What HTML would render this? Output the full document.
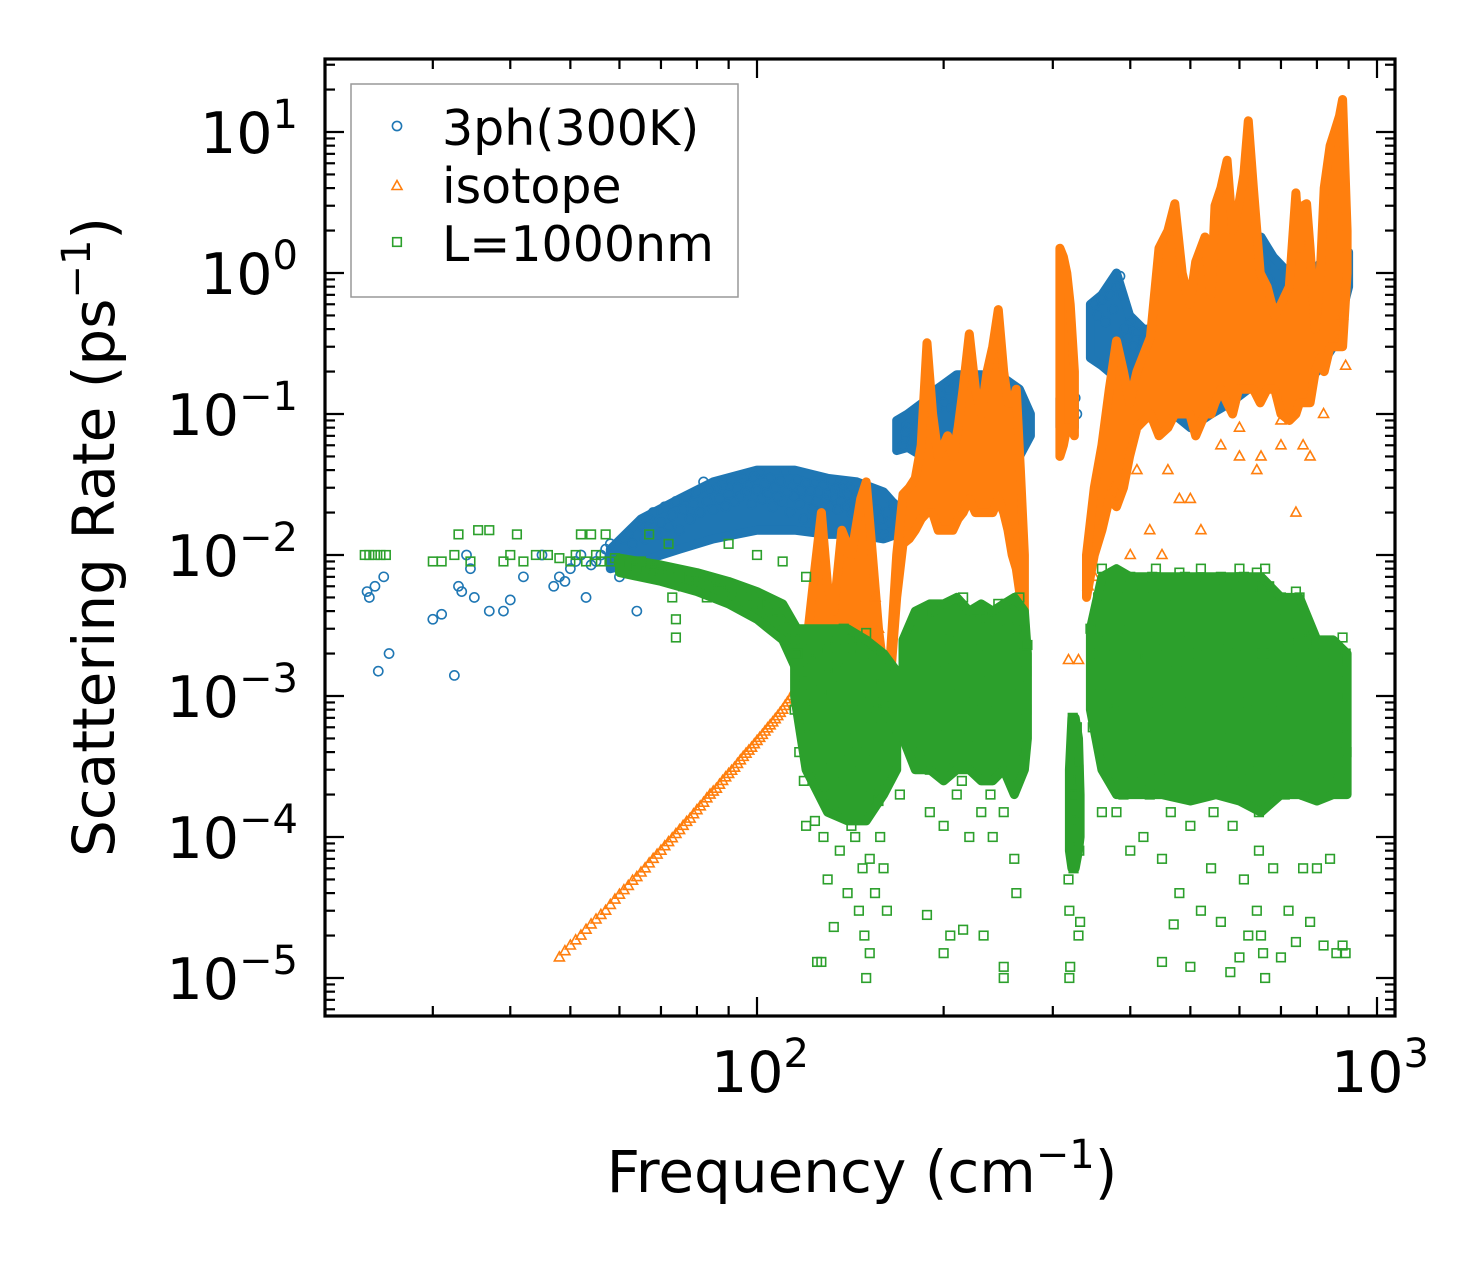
<!DOCTYPE html>
<html><head><meta charset="utf-8"><style>
body{margin:0;background:#fff;}
svg{display:block;font-family:"DejaVu Sans","Liberation Sans",sans-serif;}
</style></head><body>
<svg id="chart" width="1483" height="1265" viewBox="0 0 1483 1265" style="position:absolute;left:0;top:0">
<rect width="1483" height="1265" fill="#fff"/>
<g id="marks"></g>
<g id="axes"></g>
</svg>
<script>
// ---- axis data ----
const xTicks = [100, 1000];
const xTickExp = ["2", "3"];
const yTicks = [10, 1, 0.1, 0.01, 0.001, 0.0001, 0.00001];
const yTickExp = ["1", "0", "\u22121", "\u22122", "\u22123", "\u22124", "\u22125"];

// ---- dense-cloud envelopes (frequency, lower rate, upper rate) ----
const blueCloudAFreq = [58,65,75,85,100,115,130,145,160,168];
const blueCloudAHigh = [1.1e-2,1.8e-2,2.5e-2,3.3e-2,4e-2,4e-2,3.5e-2,3.3e-2,2.8e-2,2.2e-2];
const blueCloudALow  = [8e-3,9e-3,1.1e-2,1.3e-2,1.5e-2,1.5e-2,1.4e-2,1.4e-2,1.3e-2,1.4e-2];
const blueCloudBFreq = [168,175,185,195,210,230,250,265,276];
const blueCloudBHigh = [9e-2,1e-1,1.2e-1,1.5e-1,1.9e-1,1.9e-1,1.8e-1,1.5e-1,1e-1];
const blueCloudBLow  = [5.5e-2,5.8e-2,5e-2,5e-2,5e-2,5e-2,5e-2,5e-2,7e-2];
const blueCloudCFreq = [308,315,325];
const blueCloudCHigh = [1.3e-1,1.3e-1,1.2e-1];
const blueCloudCLow  = [8e-2,8e-2,8e-2];
const blueCloudDFreq = [345,360,380,399,420,445,470,500,540,580,620,650,680,720,760,800,850,900];
const blueCloudDHigh = [6e-1,7e-1,1,5e-1,4e-1,4e-1,5e-1,6e-1,8e-1,1,1.5,1.8,1.3,1,1,1.1,1.5,1.4];
const blueCloudDLow  = [2.5e-1,2.2e-1,1.8e-1,1.5e-1,1.6e-1,1.3e-1,1e-1,8e-2,1e-1,1.2e-1,1.5e-1,1.8e-1,2e-1,2e-1,2e-1,2e-1,3e-1,8e-1];

const isoCloudAFreq = [118,121,124,127,130,133,137,142,147,150,153,157,160,163,168,172,176,180,184,188,192,196,200,203,207,211,215,220,225,230,235,240,245,250,254,258,262,266,270];
const isoCloudAHigh = [1.5e-3,3e-3,8e-3,2e-2,6e-3,4e-3,1.5e-2,1e-2,2.5e-2,3.3e-2,1.2e-2,3e-3,1.5e-3,1.2e-3,1e-2,2.7e-2,3e-2,3.5e-2,6e-2,3.2e-1,1e-1,5e-2,6e-2,7e-2,5e-2,8e-2,1.5e-1,3.7e-1,1.5e-1,1e-1,2e-1,3e-1,5.5e-1,2e-1,1.2e-1,1.2e-1,1.5e-1,4e-2,1e-2];
const isoCloudALow  = [1.2e-3,1.5e-3,2e-3,3e-3,2.5e-3,2e-3,2.5e-3,3e-3,3e-3,3e-3,2e-3,1.2e-3,1e-3,9e-4,5e-3,1.2e-2,1.3e-2,1.5e-2,1.8e-2,2e-2,2e-2,1.5e-2,1.5e-2,1.5e-2,1.5e-2,1.8e-2,2e-2,2.5e-2,2e-2,2e-2,2e-2,2e-2,2.5e-2,2e-2,1.5e-2,1e-2,8e-3,5e-3,4e-3];
const isoCloudBFreq = [308,312,316,320,325];
const isoCloudBHigh = [1.5,1.3,1,6e-1,2e-1];
const isoCloudBLow  = [5e-2,6e-2,8e-2,8e-2,7e-2];
const isoCloudCFreq = [340,350,360,370,380,390,399,410,431,445,460,472,485,499,510,528,540,548,560,573,585,598,610,620,632,648,665,684,700,722,740,750,760,770,780,795,810,822,840,854,870,880,895];
const isoCloudCHigh = [1e-2,3e-2,6e-2,1.5e-1,3.3e-1,2e-1,1.2e-1,2e-1,3.5e-1,1.5,2,3.1,1,6e-1,1.2,1.8,7e-1,3,4,6.3,2,3,5,12,4,1,8e-1,5e-1,6e-1,8e-1,3.7,1.5,3,3.1,1.5,4e-1,1,4,8,10,13,17,2];
const isoCloudCLow  = [5e-3,1e-2,1.5e-2,2.5e-2,2.2e-2,3e-2,5e-2,8e-2,1e-1,7e-2,8e-2,1e-1,1e-1,1e-1,7e-2,1e-1,1e-1,1.2e-1,1.5e-1,1.2e-1,1e-1,1.5e-1,1.5e-1,1.5e-1,1.5e-1,1.2e-1,1.5e-1,1.5e-1,1e-1,9e-2,1e-1,1.2e-1,1.2e-1,1.2e-1,1.2e-1,2e-1,2.5e-1,2e-1,3e-1,3e-1,3e-1,3e-1,1];

const greenCloudAFreq = [60,70,80,90,100,110,116];
const greenCloudAHigh = [9.5e-3,8.5e-3,7.5e-3,6.5e-3,5.5e-3,4.5e-3,3e-3];
const greenCloudALow  = [7.5e-3,6.5e-3,5.5e-3,4.5e-3,3.5e-3,2.5e-3,1.5e-3];
const greenCloudBFreq = [115,120,130,140,150,160,168];
const greenCloudBHigh = [3e-3,3e-3,3e-3,3e-3,2.5e-3,2e-3,1.5e-3];
const greenCloudBLow  = [1e-3,3e-4,1.5e-4,1.3e-4,1.3e-4,2e-4,3e-4];
const greenCloudCFreq = [172,180,190,200,210,220,230,240,250,260,270,273];
const greenCloudCHigh = [2.5e-3,4e-3,4.5e-3,4.5e-3,5e-3,4e-3,4.5e-3,4e-3,4.5e-3,5e-3,4e-3,2e-3];
const greenCloudCLow  = [5e-4,3e-4,3e-4,2.5e-4,3e-4,3e-4,2.5e-4,2.5e-4,3e-4,2e-4,3e-4,5e-4];
const greenCloudDFreq = [319,322,326,330,332];
const greenCloudDHigh = [3e-4,7e-4,7e-4,5e-4,2e-4];
const greenCloudDLow  = [8e-5,6e-5,6e-5,8e-5,1e-4];
const greenCloudEFreq = [345,360,380,400,450,500,550,600,650,700,750,800,850,895];
const greenCloudEHigh = [3e-3,7e-3,8e-3,7e-3,7e-3,7e-3,7e-3,7e-3,7e-3,5e-3,5e-3,2.5e-3,2.5e-3,2e-3];
const greenCloudELow  = [8e-4,3e-4,2e-4,2e-4,2e-4,1.8e-4,2e-4,1.8e-4,1.5e-4,2e-4,2e-4,1.8e-4,2e-4,2e-4];

// ---- individual points ----
const freq3ph = [23.5,23.7,24.2,24.5,25,25.5,30,31,32.5,33,33.4,34,34.5,35,37,39,40,42,45,47,48,49,50,51,52,53,54,55,56,57,58,59,60,61,62,63,64,65,66,67,68,69,70,71,72,73,74,75,76,77,78,79,80,81,82,83,84,85,86,87,88,89,90,91,92,93,94,95,96,97,98,99,100,101,102,103,104,105,106,107,108,109,110,111,112,113,114,115,116,117,118,119,120,121,122,123,124,125,126,127,128,129,130,131,132,133,134,135,136,137,138,139,140,141,142,144,146,148,150,152,154,156,158,160,162,164,166,168,172,174,176,178,180,182,184,186,188,190,192,194,196,198,200,203,206,209,212,215,218,221,224,227,230,233,236,239,242,245,248,251,254,257,260,263,266,268,270,318,320,322,324,326,328,350,355,360,365,370,375,380,385,388,392,396,400,405,410,415,420,425,430,440,450,460,470,480,490,500,510,520,530,540,550,560,570,580,590,600,610,620,630,640,650,660,670,680,700,720,740,760,780,800,820,840,860,880,890,455,600,650,700,750];
const rate3ph = [5.5e-3,5e-3,6e-3,1.5e-3,7e-3,2e-3,3.5e-3,3.8e-3,1.4e-3,6e-3,5.5e-3,1e-2,8e-3,5e-3,4e-3,4e-3,4.8e-3,7e-3,1e-2,6e-3,7e-3,6.5e-3,8e-3,9e-3,1e-2,5e-3,8.5e-3,9e-3,1e-2,1.1e-2,1.2e-2,9e-3,7e-3,1.3e-2,1.4e-2,1.2e-2,4e-3,1.6e-2,1.3e-2,1.8e-2,2e-2,1.4e-2,1.7e-2,2.2e-2,1.6e-2,1.9e-2,2.4e-2,1.5e-2,2.1e-2,2.6e-2,1.8e-2,2.3e-2,2.8e-2,2e-2,3.3e-2,2.4e-2,2.9e-2,2.1e-2,3e-2,2.5e-2,3.2e-2,2.2e-2,2.7e-2,3.4e-2,2.4e-2,3e-2,2.6e-2,3.5e-2,2.8e-2,3.1e-2,2.3e-2,3.6e-2,2.9e-2,3.8e-2,2.5e-2,3.2e-2,2.7e-2,3.5e-2,2.2e-2,3e-2,2.6e-2,3.3e-2,2.4e-2,3.9e-2,2.8e-2,2e-2,3.1e-2,2.6e-2,3.4e-2,2.3e-2,2.9e-2,1.8e-2,3.2e-2,2.5e-2,2.9e-2,2.1e-2,3.3e-2,2.4e-2,2.8e-2,2e-2,3.1e-2,2.5e-2,2.7e-2,2.2e-2,3.4e-2,2.6e-2,2.9e-2,2.1e-2,3e-2,2.4e-2,3.2e-2,2.2e-2,2.7e-2,3e-2,2e-2,2.5e-2,2.2e-2,2.6e-2,1.9e-2,2.3e-2,1.6e-2,2.1e-2,1.8e-2,1.4e-2,2e-2,1.7e-2,2.3e-2,1.9e-2,6e-2,7.5e-2,8e-2,6.5e-2,7e-2,8.5e-2,6e-2,7.5e-2,9e-2,8e-2,1e-1,1.3e-1,1.1e-1,1.4e-1,1.2e-1,1.5e-1,1.1e-1,1.6e-1,1.3e-1,1.7e-1,1.2e-1,1.5e-1,1.8e-1,1.3e-1,1.6e-1,1.4e-1,1.7e-1,1.2e-1,1.5e-1,1.8e-1,1.3e-1,1.6e-1,1.1e-1,1.4e-1,1.2e-1,1e-1,9e-2,1.1e-1,8.5e-2,1e-1,1.2e-1,9e-2,1.1e-1,1.3e-1,1e-1,6e-1,5e-1,6.5e-1,4.5e-1,7e-1,5.5e-1,8e-1,9.5e-1,7e-1,4e-1,3.5e-1,4.5e-1,3e-1,3.8e-1,2.8e-1,3.3e-1,2.5e-1,3e-1,2.2e-1,2.5e-1,3.5e-1,4e-1,5e-1,4.5e-1,6e-1,5e-1,5.5e-1,4.8e-1,6e-1,5e-1,4.5e-1,5.5e-1,6e-1,7e-1,8e-1,1,1.2,1.5,1.6,1.3,1.1,9e-1,8e-1,7e-1,8e-1,1,1.1,9e-1,8e-1,1,1.2,1.1,1.2,1,1.5e-1,2e-1,3e-1,1.8e-1,3e-1];

const freqIso = [48,49,50,51,52,53,54,55,56,57,58,59,60,61,62,63,64,65,66,67,68,69,70,71,72,73,74,75,76,77,78,79,80,81,82,83,84,85,86,87,88,89,90,91,92,93,94,95,96,97,98,99,100,101,102,103,104,105,106,107,108,109,110,111,112,113,114,115,116,117,118,119,120,
155,157,159,161,163,318,330,342,350,375,400,410,430,450,460,480,500,520,600,650,700,740,780,870,880,890,560,600,640,700,760,820];
const rateIso = [1.4e-5,1.55e-5,1.7e-5,1.85e-5,2e-5,2.2e-5,2.4e-5,2.6e-5,2.8e-5,3e-5,3.3e-5,3.6e-5,3.9e-5,4.2e-5,4.5e-5,4.9e-5,5.2e-5,5.6e-5,6e-5,6.5e-5,7e-5,7.5e-5,8e-5,8.6e-5,9.2e-5,9.8e-5,1.05e-4,1.12e-4,1.2e-4,1.28e-4,1.35e-4,1.45e-4,1.55e-4,1.65e-4,1.75e-4,1.88e-4,2e-4,2.1e-4,2.2e-4,2.35e-4,2.5e-4,2.65e-4,2.8e-4,2.95e-4,3.1e-4,3.3e-4,3.5e-4,3.7e-4,3.9e-4,4.1e-4,4.3e-4,4.55e-4,4.8e-4,5.05e-4,5.3e-4,5.6e-4,5.9e-4,6.2e-4,6.5e-4,6.85e-4,7.2e-4,7.6e-4,8e-4,8.5e-4,9e-4,9.5e-4,1e-3,1.1e-3,1.2e-3,1.3e-3,1.4e-3,1.55e-3,1.7e-3,
5e-3,3e-3,2e-3,1.5e-3,1.2e-3,1.8e-3,1.8e-3,6e-3,7e-3,3e-2,1e-2,4e-2,1.5e-2,1e-2,4e-2,2.5e-2,2.5e-2,1.5e-2,8e-2,5e-2,6e-2,2e-2,5e-2,3.5e-1,5e-1,2.2e-1,6e-2,5e-2,4e-2,9e-2,6e-2,1e-1];

const freqL = [23.3,23.7,24.2,24.7,25.2,30,31,32.5,33,34.5,35.5,37,39,40,41,42,44,46,48,50,51,52,53,54,55,56,57,58,59,60,62,64,65,66,67,68,70,72,73,74,74,75,76,78,80,82,83,84,86,88,90,92,94,96,98,100,102,104,106,108,110,112,114,116,118,120,67,72,90,100,110,120,
115,116,117,118,119,120,121,122,123,124,125,126,127,128,129,130,131,132,133,134,135,136,137,138,139,140,141,142,143,144,145,146,147,148,149,150,151,152,153,154,155,156,157,158,159,160,161,162,163,164,165,118,122,126,130,134,138,142,146,150,154,120,128,136,144,152,158,125,127,130,133,140,146,149,150,152,155,160,162,165,168,170,
175,178,180,182,184,186,188,190,192,194,196,198,200,202,204,206,208,210,212,214,216,218,220,222,224,226,228,230,232,234,236,238,240,242,244,246,248,250,252,254,256,258,260,262,264,266,268,270,272,185,195,205,215,225,235,245,255,265,190,200,210,220,230,240,250,260,262,188,200,205,215,232,250,250,270,272,273,
318,319,319,320,321,322,323,324,325,326,327,328,329,330,331,332,330,324,326,322,
345,348,350,355,358,360,362,365,368,370,372,375,378,380,382,385,388,390,393,396,400,403,406,410,413,416,420,423,426,430,434,438,442,446,450,455,460,465,470,475,480,485,490,495,500,505,510,515,520,525,530,535,540,545,550,555,560,565,570,575,580,585,590,595,600,605,610,615,620,625,630,635,640,645,650,655,660,665,670,675,680,685,690,695,700,710,720,730,740,750,755,760,765,770,775,780,790,800,810,820,830,840,850,860,870,880,885,890,892,893,
360,400,440,480,520,560,600,640,660,700,740,730,780,880,890,
360,400,420,450,480,500,520,540,560,580,600,610,620,640,660,680,700,720,740,760,780,800,820,840,860,880,890,650,655,645,450,500,470];
const rateL = [1e-2,1e-2,1e-2,1e-2,1e-2,9e-3,9e-3,1e-2,1.4e-2,9e-3,1.5e-2,1.5e-2,9e-3,1e-2,1.4e-2,9e-3,1e-2,1e-2,9.5e-3,9e-3,1e-2,1.4e-2,9e-3,1.4e-2,1e-2,9e-3,1.4e-2,9e-3,9.5e-3,9e-3,8.5e-3,8e-3,9e-3,8e-3,8.5e-3,8e-3,7.5e-3,8e-3,5e-3,3.5e-3,2.6e-3,7e-3,6e-3,7e-3,6.5e-3,7e-3,5e-3,6e-3,6.5e-3,5.5e-3,6e-3,5e-3,5.5e-3,4.5e-3,5e-3,4.5e-3,4e-3,4.5e-3,3.5e-3,4e-3,3e-3,3.5e-3,2.5e-3,2e-3,1.5e-3,1e-3,1.4e-2,1.2e-2,1.2e-2,1e-2,9e-3,7e-3,
8e-4,2e-3,4e-4,1.2e-3,2.5e-4,6e-4,1.5e-3,3e-4,9e-4,1.3e-4,2e-3,5e-4,1.1e-3,2e-4,7e-4,1.6e-3,3.5e-4,1e-3,1.5e-4,2.5e-3,6e-4,1.2e-3,2.5e-4,8e-4,1.8e-3,4e-4,1e-3,1.2e-4,2.2e-3,5e-4,1.4e-3,3e-4,9e-4,6e-5,1.6e-3,4e-4,1.1e-3,2e-4,7e-4,1.3e-3,3e-4,8e-4,1.8e-4,1.2e-3,5e-4,9e-4,2.5e-4,1.5e-3,6e-4,1e-3,7e-4,2.5e-3,1.8e-3,2.8e-3,2.2e-3,1.5e-3,3e-3,2.5e-3,2e-3,2.8e-3,2e-3,1.2e-4,1e-4,8e-5,1e-4,7e-5,1e-4,1.3e-5,1.3e-5,5e-5,2.3e-5,4e-5,3e-5,2e-5,1e-5,1.5e-5,4e-5,6e-5,3e-5,3e-4,5e-4,2e-4,
1.5e-3,6e-4,3e-3,1e-3,4e-4,2e-3,8e-4,3e-4,4e-3,1.5e-3,6e-4,2.5e-3,1e-3,3.5e-4,4.5e-3,1.8e-3,7e-4,3e-3,1.2e-3,2.5e-4,4e-3,1.5e-3,5e-4,2.5e-3,9e-4,3e-4,3.5e-3,1.3e-3,6e-4,2e-3,8e-4,2e-4,4e-3,1.5e-3,5e-4,3e-3,1e-3,3e-4,4.5e-3,1.8e-3,7e-4,2.5e-3,1e-3,4e-4,3e-3,1.2e-3,5e-4,2e-3,8e-4,4e-3,3.5e-3,2.5e-3,5e-3,4e-3,3.5e-3,4.5e-3,3.5e-3,5e-3,1.5e-4,1.2e-4,2e-4,1e-4,1.5e-4,1e-4,1.5e-4,7e-5,4e-5,2.8e-5,1.5e-5,2e-5,2.2e-5,2e-5,1.2e-5,1e-5,3e-3,1.5e-3,2.3e-3,
5e-5,3e-5,1e-5,1.2e-5,2e-4,4e-4,7e-4,1e-4,3e-4,5e-4,2e-4,6e-4,1.5e-4,3e-4,8e-5,2.5e-5,2e-5,6e-5,1.3e-4,2.5e-4,
3e-3,6e-4,2e-3,5e-3,1.2e-3,4e-4,7e-3,2.5e-3,9e-4,3e-4,6e-3,2e-3,8e-4,1.5e-4,5e-3,1.5e-3,6e-4,2e-4,7e-3,3e-3,1e-3,4e-4,6e-3,2e-3,7e-4,2.5e-4,5e-3,1.8e-3,6e-4,2e-4,7e-3,2.5e-3,9e-4,3e-4,6e-3,2e-3,8e-4,1.5e-4,5e-3,1.5e-3,5e-4,2e-4,7e-3,2.5e-3,9e-4,3e-4,6e-3,2e-3,7e-4,2e-4,5e-3,1.8e-3,6e-4,1.5e-4,6.5e-3,2.5e-3,8e-4,3e-4,5e-3,1.5e-3,5e-4,1.2e-4,6e-3,2e-3,7e-4,2.5e-4,7e-3,2.5e-3,9e-4,3e-4,6e-3,2e-3,6e-4,1.5e-4,5.5e-3,2e-3,7e-4,2.5e-4,6e-3,2e-3,8e-4,3e-4,4e-3,1.5e-3,5e-4,2e-4,2.5e-3,1e-3,4e-4,5e-3,1.5e-3,6e-4,2e-4,2.5e-3,1e-3,4e-4,2e-3,8e-4,3e-4,1.5e-3,6e-4,2.5e-4,1.8e-3,7e-4,3e-4,1.5e-3,6e-4,2e-3,1e-3,4e-4,
8e-3,7e-3,8e-3,7.5e-3,8e-3,7e-3,8e-3,7.5e-3,8e-3,5e-3,5.5e-3,2.7e-3,2.6e-3,2.6e-3,1.8e-3,
1.5e-4,8e-5,1e-4,7e-5,4e-5,1.2e-4,3e-5,6e-5,2.5e-5,1.1e-5,1.4e-5,5e-5,2e-5,3e-5,1e-5,6e-5,1.4e-5,3e-5,1.8e-5,6e-5,2.5e-5,6e-5,1.7e-5,7e-5,1.5e-5,1.7e-5,1.5e-5,2e-5,1.5e-5,8e-5,1.3e-5,1.2e-5,2.4e-5];

// ---- scales ----
const X0 = 757, XDEC = 620, Y0 = 273, YDEC = 141;
const PL = 325, PR = 1395, PT = 59, PB = 1016;
function xs(v){ return X0 + (Math.log10(v) - 2) * XDEC; }
function ys(v){ return Y0 - Math.log10(v) * YDEC; }
const NS = "http://www.w3.org/2000/svg";
function mk(tag, attrs, parent){ const e = document.createElementNS(NS, tag); for (const k in attrs) e.setAttribute(k, attrs[k]); parent.appendChild(e); return e; }

const marks = document.getElementById('marks');
const axes = document.getElementById('axes');
const clip = mk('clipPath', {id:'plotclip'}, document.getElementById('chart'));
mk('rect', {x:PL, y:PT, width:PR-PL, height:PB-PT}, clip);
marks.setAttribute('clip-path', 'url(#plotclip)');

const BLUE = '#1f77b4', ORANGE = '#ff7f0e', GREEN = '#2ca02c';
function cloud(fr, lo, hi, color, parent, name){
  const pts = fr.map((f,i) => xs(f).toFixed(1)+','+ys(hi[i]).toFixed(1));
  for (let i = fr.length-1; i >= 0; i--) pts.push(xs(fr[i]).toFixed(1)+','+ys(lo[i]).toFixed(1));
  const p = mk('polygon', {points:pts.join(' '), fill:color, stroke:color, 'stroke-width':9, 'stroke-linejoin':'round'}, parent);
  
  
}
function circle(cx, cy, parent){ return mk('circle', {cx:cx, cy:cy, r:4.6, fill:'none', stroke:BLUE, 'stroke-width':1.6}, parent); }
function tri(cx, cy, parent){ return mk('path', {d:`M${cx},${cy-5.5} L${cx+5},${cy+3.5} L${cx-5},${cy+3.5} Z`, fill:'none', stroke:ORANGE, 'stroke-width':1.6}, parent); }
function sq(cx, cy, parent){ return mk('rect', {x:cx-4.3, y:cy-4.3, width:8.6, height:8.6, fill:'none', stroke:GREEN, 'stroke-width':1.6}, parent); }

const g1 = mk('g', {}, marks);


cloud(blueCloudAFreq, blueCloudALow, blueCloudAHigh, BLUE, g1, 'cloud-3ph-low');
cloud(blueCloudBFreq, blueCloudBLow, blueCloudBHigh, BLUE, g1, 'cloud-3ph-mid');
cloud(blueCloudCFreq, blueCloudCLow, blueCloudCHigh, BLUE, g1, 'cloud-3ph-column');
cloud(blueCloudDFreq, blueCloudDLow, blueCloudDHigh, BLUE, g1, 'cloud-3ph-high');
freq3ph.forEach((f, i) => { const p = circle(xs(f), ys(rate3ph[i]), g1);
  
   });

const g2 = mk('g', {}, marks);


cloud(isoCloudAFreq, isoCloudALow, isoCloudAHigh, ORANGE, g2, 'cloud-isotope-mid');
cloud(isoCloudBFreq, isoCloudBLow, isoCloudBHigh, ORANGE, g2, 'cloud-isotope-column');
cloud(isoCloudCFreq, isoCloudCLow, isoCloudCHigh, ORANGE, g2, 'cloud-isotope-high');
freqIso.forEach((f, i) => { const p = tri(xs(f), ys(rateIso[i]), g2);
  
   });

const g3 = mk('g', {}, marks);


cloud(greenCloudAFreq, greenCloudALow, greenCloudAHigh, GREEN, g3, 'cloud-l1000-band');
cloud(greenCloudBFreq, greenCloudBLow, greenCloudBHigh, GREEN, g3, 'cloud-l1000-a');
cloud(greenCloudCFreq, greenCloudCLow, greenCloudCHigh, GREEN, g3, 'cloud-l1000-b');
cloud(greenCloudDFreq, greenCloudDLow, greenCloudDHigh, GREEN, g3, 'cloud-l1000-column');
cloud(greenCloudEFreq, greenCloudELow, greenCloudEHigh, GREEN, g3, 'cloud-l1000-high');
freqL.forEach((f, i) => { const p = sq(xs(f), ys(rateL[i]), g3);
  
   });

// ---- ticks ----
const tickG = mk('g', {stroke:'#000', 'stroke-width':2.2}, axes);


for (let d = 1; d <= 3; d++) for (let m = 1; m <= 9; m++) {
  const v = m * Math.pow(10, d); const x = xs(v);
  if (x < PL + 2 || x > PR - 2) continue;
  const L = m === 1 ? 19 : 10;
  mk('line', {x1:x, y1:PB, x2:x, y2:PB-L}, tickG);
  mk('line', {x1:x, y1:PT, x2:x, y2:PT+L}, tickG);
}
for (let d = -6; d <= 2; d++) for (let m = 1; m <= 9; m++) {
  const v = m * Math.pow(10, d); const y = ys(v);
  if (y < PT + 2 || y > PB - 2) continue;
  const L = m === 1 ? 19 : 10;
  mk('line', {x1:PL, y1:y, x2:PL+L, y2:y}, tickG);
  mk('line', {x1:PR, y1:y, x2:PR-L, y2:y}, tickG);
}
const frame = mk('rect', {x:PL, y:PT, width:PR-PL, height:PB-PT, fill:'none', stroke:'#000', 'stroke-width':3.2}, axes);



xTicks.forEach((v, i) => {
  const t = mk('text', {x:xs(v)+3, y:1092, 'text-anchor':'middle', 'font-size':57, fill:'#000'}, axes);
  
  
  t.innerHTML = `10<tspan dy="-25" font-size="40">${xTickExp[i]}</tspan>`;
});
yTicks.forEach((v, i) => {
  const t = mk('text', {x:298, y:ys(v)+21, 'text-anchor':'end', 'font-size':57, fill:'#000'}, axes);
  
  
  t.innerHTML = `10<tspan dy="-25" font-size="40">${yTickExp[i]}</tspan>`;
});
</script>
<svg style="position:absolute;left:0;top:0" width="1483" height="1265">
  <text x="862" y="1192" text-anchor="middle" font-family="DejaVu Sans, Liberation Sans, sans-serif" font-size="58">Frequency (cm<tspan dy="-24" font-size="40">−1</tspan><tspan dy="24">)</tspan></text>
  <text transform="translate(114,537) rotate(-90)" text-anchor="middle" font-family="DejaVu Sans, Liberation Sans, sans-serif" font-size="58">Scattering Rate (ps<tspan dy="-24" font-size="40">−1</tspan><tspan dy="24">)</tspan></text>
  <g>
    <rect x="351" y="84" width="387" height="213" fill="#fff" fill-opacity="0.8" stroke="#999" stroke-width="1.5"/>
    <circle cx="397" cy="126" r="4.6" fill="none" stroke="#1f77b4" stroke-width="1.6"/>
    <text x="442" y="145" font-family="DejaVu Sans, Liberation Sans, sans-serif" font-size="49">3ph(300K)</text>
    <path d="M397,180.5 L402,189.5 L392,189.5 Z" fill="none" stroke="#ff7f0e" stroke-width="1.6"/>
    <text x="442" y="203" font-family="DejaVu Sans, Liberation Sans, sans-serif" font-size="49">isotope</text>
    <rect x="392.7" y="237.7" width="8.6" height="8.6" fill="none" stroke="#2ca02c" stroke-width="1.6"/>
    <text x="442" y="261" font-family="DejaVu Sans, Liberation Sans, sans-serif" font-size="49">L=1000nm</text>
  </g>
</svg>
</body></html>
